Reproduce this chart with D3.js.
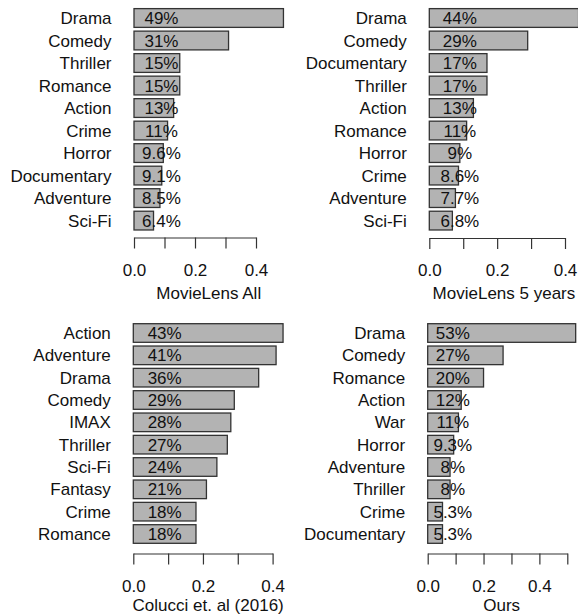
<!DOCTYPE html>
<html>
<head>
<meta charset="utf-8">
<script src="https://cdn.jsdelivr.net/npm/d3@7"></script>
<style>
  html, body { margin: 0; padding: 0; background: #fff; }
  svg { display: block; font-family: "Liberation Sans", Arial, Helvetica, sans-serif; }
</style>
</head>
<body>
<svg id="chart" width="578" height="616"></svg>
<script>
// ---- data ----
const titles = ["MovieLens All", "MovieLens 5 years", "Colucci et. al (2016)", "Ours"];

const catsAll = ["Drama", "Comedy", "Thriller", "Romance", "Action", "Crime", "Horror", "Documentary", "Adventure", "Sci-Fi"];
const valsAll = [0.49, 0.31, 0.15, 0.15, 0.13, 0.11, 0.096, 0.091, 0.085, 0.064];

const cats5y = ["Drama", "Comedy", "Documentary", "Thriller", "Action", "Romance", "Horror", "Crime", "Adventure", "Sci-Fi"];
const vals5y = [0.44, 0.29, 0.17, 0.17, 0.13, 0.11, 0.09, 0.086, 0.077, 0.068];

const catsColucci = ["Action", "Adventure", "Drama", "Comedy", "IMAX", "Thriller", "Sci-Fi", "Fantasy", "Crime", "Romance"];
const valsColucci = [0.43, 0.41, 0.36, 0.29, 0.28, 0.27, 0.24, 0.21, 0.18, 0.18];

const catsOurs = ["Drama", "Comedy", "Romance", "Action", "War", "Horror", "Adventure", "Thriller", "Crime", "Documentary"];
const valsOurs = [0.53, 0.27, 0.20, 0.12, 0.11, 0.093, 0.08, 0.08, 0.053, 0.053];

const ticksTo04 = [0, 0.1, 0.2, 0.3, 0.4];
const ticksTo05 = [0, 0.1, 0.2, 0.3, 0.4, 0.5];
const tickLabelValues = [0, 0.2, 0.4];
const tickLabels = ["0.0", "0.2", "0.4"];
const labelAt = 0.09;

// ---- layout (pixel positions only) ----
const layout = [
  { cats: catsAll,     vals: valsAll,     ticks: ticksTo04, dmax: 0.4, x0: 134,   x1: 256,   c1: 18,  c10: 220.6, axisY: 237.5, titleOff: 55.5, title: titles[0] },
  { cats: cats5y,      vals: vals5y,      ticks: ticksTo04, dmax: 0.4, x0: 429.3, x1: 565,   c1: 18,  c10: 220.6, axisY: 238,   titleOff: 55.3, title: titles[1] },
  { cats: catsColucci, vals: valsColucci, ticks: ticksTo04, dmax: 0.4, x0: 133.3, x1: 272.6, c1: 333, c10: 534,   axisY: 553.5, titleOff: 51.5, title: titles[2] },
  { cats: catsOurs,    vals: valsOurs,    ticks: ticksTo05, dmax: 0.5, x0: 427.7, x1: 567.3, c1: 333, c10: 534,   axisY: 553.5, titleOff: 51.5, title: titles[3] }
];

const svg = d3.select("#chart");
const fmt = d3.format(".2~p");
const FS = 17;

layout.forEach(p => {
  const g = svg.append("g");
  const x = d3.scaleLinear().domain([0, p.dmax]).range([p.x0, p.x1]);
  const step = (p.c10 - p.c1) / (p.cats.length - 1);
  const y = d3.scaleBand()
    .domain(p.cats)
    .range([p.c1 - step / 2, p.c10 + step / 2])
    .paddingInner(1 / 6)
    .paddingOuter(1 / 12);

  // bars
  g.selectAll("rect.bar").data(p.cats).enter().append("rect")
    .attr("class", "bar")
    .attr("x", x(0))
    .attr("y", d => y(d))
    .attr("width", (d, i) => x(p.vals[i]) - x(0))
    .attr("height", y.bandwidth())
    .attr("fill", "#b3b3b3")
    .attr("stroke", "#333")
    .attr("stroke-width", 1.3);

  // category labels
  g.selectAll("text.cat").data(p.cats).enter().append("text")
    .attr("class", "cat")
    .attr("x", x(0) - 22.5)
    .attr("y", d => y(d) + y.bandwidth() / 2)
    .attr("dy", "0.36em")
    .attr("text-anchor", "end")
    .attr("font-size", FS)
    .attr("fill", "#111")
    .text(d => d);

  // percent labels
  g.selectAll("text.pct").data(p.cats).enter().append("text")
    .attr("class", "pct")
    .attr("x", x(labelAt))
    .attr("y", d => y(d) + y.bandwidth() / 2)
    .attr("dy", "0.36em")
    .attr("text-anchor", "middle")
    .attr("font-size", FS)
    .attr("fill", "#111")
    .text((d, i) => fmt(p.vals[i]));

  // axis
  const axis = d3.axisBottom(x)
    .tickValues(p.ticks)
    .tickSize(11)
    .tickSizeOuter(0)
    .tickFormat(v => {
      const k = tickLabelValues.findIndex(t => Math.abs(t - v) < 1e-9);
      return k >= 0 ? tickLabels[k] : "";
    })
    .tickPadding(15);
  const ax = g.append("g").attr("transform", `translate(0,${p.axisY})`).call(axis);
  ax.select(".domain").attr("stroke", "#333").attr("stroke-width", 1.2);
  ax.selectAll(".tick line").attr("stroke", "#333").attr("stroke-width", 1.2);
  ax.selectAll(".tick text").attr("font-size", FS).attr("fill", "#111")
    .attr("font-family", "Liberation Sans, Arial, sans-serif");

  // title
  const maxV = d3.max(p.vals);
  g.append("text")
    .attr("x", x(maxV / 2))
    .attr("y", p.axisY + p.titleOff)
    .attr("dy", "0.36em")
    .attr("text-anchor", "middle")
    .attr("font-size", FS)
    .attr("fill", "#111")
    .text(p.title);
});
</script>
</body>
</html>
